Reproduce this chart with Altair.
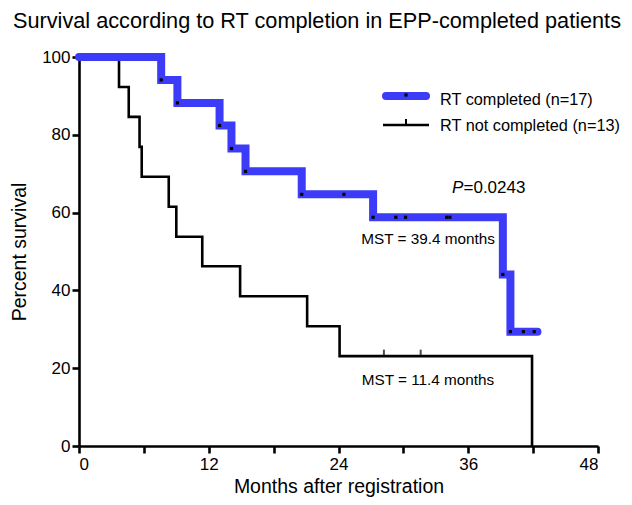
import altair as alt
import pandas as pd

# Kaplan-Meier steps
blue_time = [0, 7.6, 9.1, 13.0, 14.1, 15.4, 20.6, 27.2, 39.2, 39.9, 42.4]
blue_surv = [100, 94.1, 88.2, 82.4, 76.5, 70.6, 64.7, 58.8, 44.1, 29.4, 29.4]
blue_cens_time = [7.6, 9.1, 13.0, 14.1, 15.4, 20.6, 24.5, 27.2, 29.3, 30.2, 34.0, 34.3, 39.2, 39.9, 41.1, 42.1]
blue_cens_surv = [94.1, 88.2, 82.4, 76.5, 70.6, 64.7, 64.7, 58.8, 58.8, 58.8, 58.8, 58.8, 44.1, 29.4, 29.4, 29.4]

black_time = [0, 3.7, 4.6, 5.6, 5.8, 8.3, 9.0, 11.4, 14.9, 21.1, 24.1, 41.9]
black_surv = [100, 92.3, 84.6, 76.9, 69.2, 61.5, 53.8, 46.2, 38.5, 30.8, 23.1, 0]
black_cens_time = [28.2, 31.6]
black_cens_surv = [23.1, 23.1]

x_ticks = [0, 6, 12, 18, 24, 30, 36, 42, 48]
y_ticks = [0, 20, 40, 60, 80, 100]

title_text = "Survival according to RT completion in EPP-completed patients"
legend_labels = ["RT completed (n=17)", "RT not completed (n=13)"]
p_text = "=0.0243"
mst_labels = ["MST = 39.4 months", "MST = 11.4 months"]

FONT = "Liberation Sans"
BLUE = "#3b3bf8"

blue_df = pd.DataFrame({"t": blue_time, "s": blue_surv})
black_df = pd.DataFrame({"t": black_time, "s": black_surv})
bc_df = pd.DataFrame({"t": blue_cens_time, "s": blue_cens_surv})
kc_df = pd.DataFrame({"t": black_cens_time, "s": black_cens_surv})

xs = alt.Scale(domain=[0, 48], nice=False, zero=False)
ys = alt.Scale(domain=[0, 100], nice=False)

xaxis = alt.Axis(values=x_ticks, labelExpr="datum.value % 12 == 0 ? datum.label : ''",
                 title="Months after registration", grid=False, labelPadding=3, titlePadding=5)
yaxis = alt.Axis(values=y_ticks, title="Percent survival", grid=False, labelPadding=2, titlePadding=12)

black_line = alt.Chart(black_df).mark_line(
    interpolate="step-after", color="black", strokeWidth=2.6
).encode(
    x=alt.X("t:Q", scale=xs, axis=xaxis),
    y=alt.Y("s:Q", scale=ys, axis=yaxis),
)

blue_line = alt.Chart(blue_df).mark_line(
    interpolate="step-after", color=BLUE, strokeWidth=8, strokeCap="round", strokeJoin="miter"
).encode(x=alt.X("t:Q", scale=xs), y=alt.Y("s:Q", scale=ys))

blue_cens = alt.Chart(bc_df).mark_square(color="black", size=10, opacity=1).encode(
    x=alt.X("t:Q", scale=xs), y=alt.Y("s:Q", scale=ys))

black_cens = alt.Chart(kc_df).mark_tick(
    color="black", orient="vertical", size=7, thickness=2, yOffset=-3
).encode(x=alt.X("t:Q", scale=xs), y=alt.Y("s:Q", scale=ys))

# annotations (pixel positions within the plot area)
title = alt.Chart(pd.DataFrame({"txt": [title_text]})).mark_text(
    font=FONT, fontSize=21.7, color="black", align="center", baseline="alphabetic"
).encode(text="txt:N", x=alt.value(238), y=alt.value(-29))

leg_blue = alt.Chart(pd.DataFrame({"a": [0]})).mark_rule(
    color=BLUE, strokeWidth=8, strokeCap="round"
).encode(x=alt.value(307), x2=alt.value(347), y=alt.value(39))
leg_blue_dot = alt.Chart(pd.DataFrame({"a": [0]})).mark_square(
    color="black", size=10, opacity=1
).encode(x=alt.value(327), y=alt.value(38))
leg_black = alt.Chart(pd.DataFrame({"a": [0]})).mark_rule(
    color="black", strokeWidth=2.6
).encode(x=alt.value(304), x2=alt.value(350), y=alt.value(68))
leg_black_tick = alt.Chart(pd.DataFrame({"a": [0]})).mark_rule(
    color="black", strokeWidth=2
).encode(x=alt.value(327), y=alt.value(62), y2=alt.value(68))

leg_text = alt.Chart(pd.DataFrame({"txt": legend_labels, "yy": [48, 74]})).mark_text(
    font=FONT, fontSize=16.3, color="black", align="left", baseline="alphabetic"
).encode(text="txt:N", x=alt.value(361), y=alt.Y("yy:Q", scale=None))

p_italic = alt.Chart(pd.DataFrame({"txt": ["P"]})).mark_text(
    font=FONT, fontSize=17, color="black", fontStyle="italic", align="left", baseline="alphabetic"
).encode(text="txt:N", x=alt.value(373), y=alt.value(136))
p_val = alt.Chart(pd.DataFrame({"txt": [p_text]})).mark_text(
    font=FONT, fontSize=17, color="black", align="left", baseline="alphabetic"
).encode(text="txt:N", x=alt.value(384.5), y=alt.value(136))

mst = alt.Chart(pd.DataFrame({"txt": mst_labels, "yy": [187, 328]})).mark_text(
    font=FONT, fontSize=15.3, color="black", align="center", baseline="alphabetic"
).encode(text="txt:N", x=alt.value(349), y=alt.Y("yy:Q", scale=None))

chart = alt.layer(
    black_line, blue_line, blue_cens, black_cens,
    title, leg_blue, leg_blue_dot, leg_black, leg_black_tick, leg_text,
    p_italic, p_val, mst
).properties(
    width=519, height=389,
    autosize=alt.AutoSizeParams(type="none"),
    padding={"left": 71, "top": 49, "right": 26, "bottom": 51},
).configure_view(stroke=None).configure_axis(
    domainColor="black", domainWidth=2.6, tickColor="black", tickWidth=2.6, tickSize=7,
    labelFont=FONT, labelFontSize=17, labelColor="black",
    titleFont=FONT, titleFontSize=19.5, titleColor="black", titleFontWeight="normal",
)

chart.save("out.html", embed_options={"renderer": "svg", "actions": False})
